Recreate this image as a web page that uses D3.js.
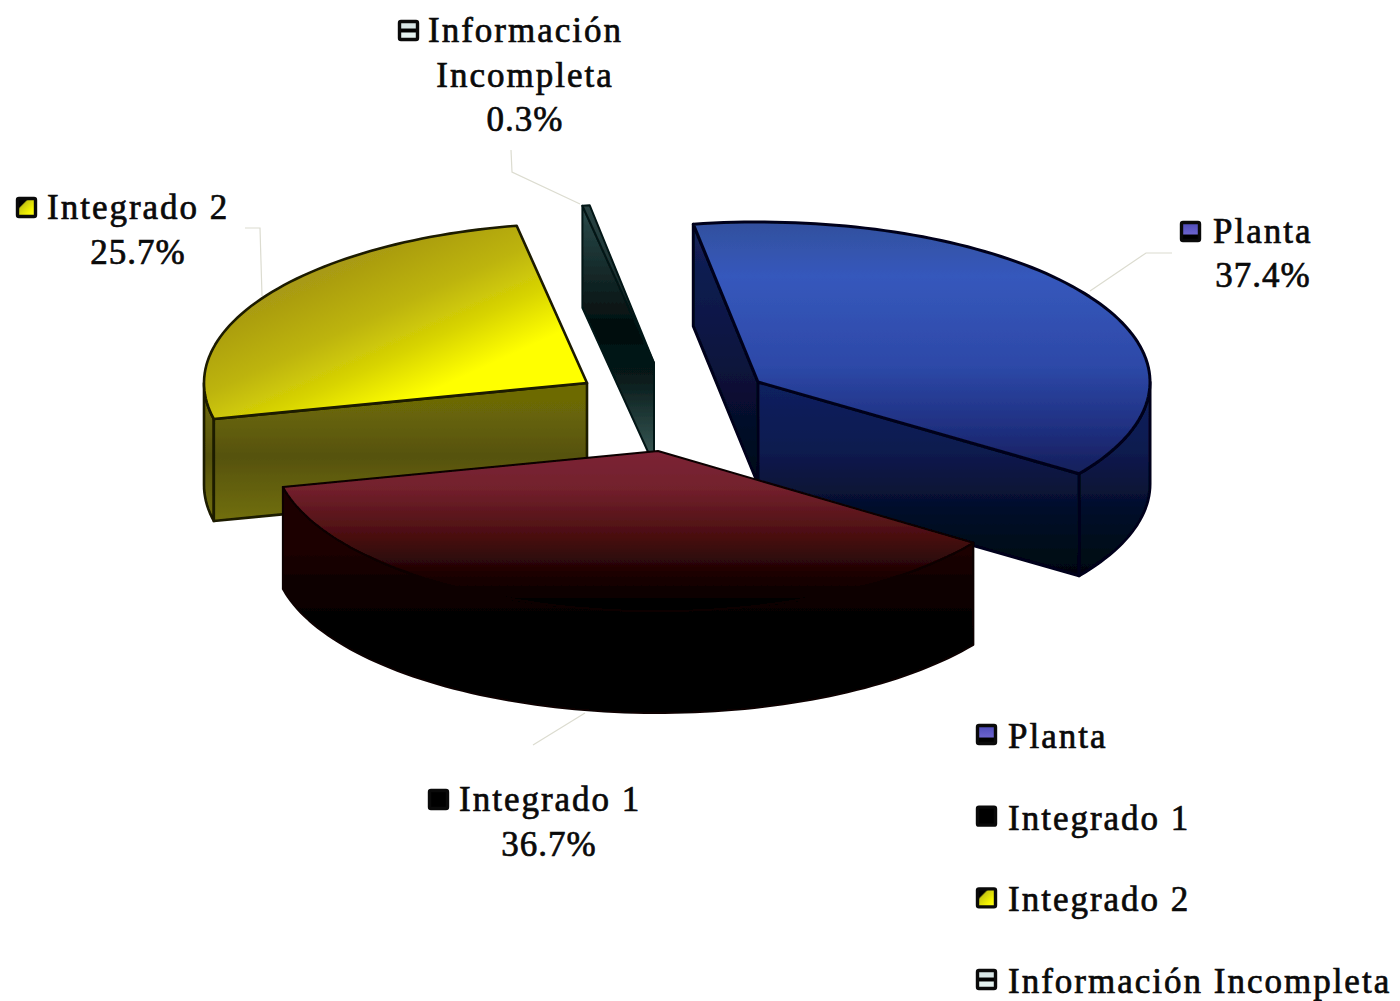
<!DOCTYPE html>
<html><head><meta charset="utf-8">
<script src="https://cdn.jsdelivr.net/npm/d3@7/dist/d3.min.js"></script>
<style>
html,body{margin:0;padding:0;background:#fff;overflow:hidden}
text{font-family:"Liberation Serif",serif;font-size:35px;fill:#0a0a0a;stroke:#0a0a0a;stroke-width:.7px;letter-spacing:2px}
text.pct{letter-spacing:1px}
</style></head><body>
<svg id="c" width="1400" height="1001"></svg>
<script>
// ---- data ----
const categories = ["Planta", "Integrado 1", "Integrado 2", "Información Incompleta"];
const values = [37.4, 36.7, 25.7, 0.3];
const valueLabels = ["37.4%", "36.7%", "25.7%", "0.3%"];

// ---- layout ----
const W = 1400, H = 1001;
const startDeg = -9.5;
const depth = 102;
const apexes = [[758,382],[658,451],[587,383],[654,363]];
const radiusX = [392,385,383,390];
const radiusY = [160,160,160,160];
const drawOrder = [2,3,0,1];

const svg = d3.select("#c").attr("viewBox",[0,0,W,H]);
const defs = svg.append("defs");
function grad(id,x1,y1,x2,y2,stops){
  const g = defs.append("linearGradient").attr("id",id).attr("gradientUnits",x2<=1&&y2<=1?"objectBoundingBox":"userSpaceOnUse")
    .attr("x1",x1).attr("y1",y1).attr("x2",x2).attr("y2",y2);
  stops.forEach(s=>g.append("stop").attr("offset",s[0]).attr("stop-color",s[1]));
}
grad("t0",0,225,0,480,[[0,"#32509f"],[.2,"#3658bc"],[.55,"#2d49a8"],[.8,"#1f2f80"],[1,"#141c54"]]);
grad("f0",0,390,0,570,[[0,"#11205e"],[.35,"#0d1a4e"],[.65,"#050f2c"],[1,"#010610"]]);
grad("w0",0,225,0,480,[[0,"#14225a"],[.5,"#0a1440"],[1,"#020818"]]);
grad("t1",0,451,0,605,[[0,"#7c2235"],[.25,"#72202c"],[.55,"#4a0e10"],[.8,"#1c0303"],[1,"#000000"]]);
grad("f1",0,545,0,640,[[0,"#1e0303"],[.5,"#0a0000"],[1,"#000000"]]);
grad("t2",395,240,480,425,[[0,"#a89a12"],[.3,"#bdb40c"],[.52,"#d8d404"],[.75,"#ffff00"],[1,"#ffff00"]]);
grad("f2",0,400,0,525,[[0,"#6d6a06"],[.45,"#56520a"],[1,"#73710e"]]);
grad("f3",0,205,0,450,[[0,"#2b4c4c"],[.5,"#020d0d"],[.7,"#071a1a"],[1,"#34534f"]]);
grad("t3",0,205,0,363,[[0,"#2a4444"],[1,"#0a1c1c"]]);
const topFill = ["url(#t0)","url(#t1)","url(#t2)","url(#t3)"];
const sideFill = ["url(#f0)","url(#f1)","url(#f2)","url(#f3)"];
const wallFill = ["url(#w0)","url(#f1)","url(#f2)","url(#f3)"];
const edge = ["#02061a","#0a0000","#1c1a00","#061414"];
const edgeWidth = [3,2,2.6,2];

const blur = defs.append("filter").attr("id","soft");
blur.append("feGaussianBlur").attr("stdDeviation",.7);

// ---- pie ----
const rad = d => d*Math.PI/180;
const arcs = d3.pie().sort(null).value(d=>d).startAngle(rad(startDeg)).endAngle(rad(startDeg+360))(values);
const line = d3.line();

function rimPoint(i,a,dz=0){
  return [apexes[i][0]+radiusX[i]*Math.sin(a), apexes[i][1]-radiusY[i]*Math.cos(a)+dz];
}
function rimPts(i,a0,a1,dz=0){
  const n = Math.max(2,Math.ceil(Math.abs(a1-a0)/rad(1.5)));
  return d3.range(n+1).map(k=>rimPoint(i,a0+(a1-a0)*k/n,dz));
}
const g = svg.append("g").attr("filter","url(#soft)");

drawOrder.forEach(i=>{
  const a0 = arcs[i].startAngle, a1 = arcs[i].endAngle;
  const ap = apexes[i], s = g.append("g").attr("class","slice");
  const style = (p,fill)=>p.attr("fill",fill).attr("stroke",edge[i]).attr("stroke-width",edgeWidth[i]).attr("stroke-linejoin","round");
  // outer wall: the front-facing part of the rim
  [[rad(90),rad(270)],[rad(450),rad(630)]].forEach(([lo,hi])=>{
    const b0=Math.max(a0,lo), b1=Math.min(a1,hi);
    if(b1>b0){
      const pts = rimPts(i,b0,b1).concat(rimPts(i,b1,b0,depth));
      style(s.append("path").attr("d",line(pts)+"Z"),sideFill[i]);
    }
  });
  // cut faces that look at the viewer
  const face = a => [rimPoint(i,a),ap,[ap[0],ap[1]+depth],rimPoint(i,a,depth)];
  if(-Math.cos(a0-Math.PI/2)>0) style(s.append("path").attr("d",line(face(a0))+"Z"),wallFill[i]);
  if(-Math.cos(a1+Math.PI/2)>0) style(s.append("path").attr("d",line(face(a1))+"Z"),sideFill[i]);
  // top
  const top = [ap].concat(rimPts(i,a0,a1));
  style(s.append("path").attr("d",line(top)+"Z"),topFill[i]);
});

// ---- leader lines ----
const leaders = [
  [[1090,291],[1146,253],[1172,253]],
  [[585,713],[533,745]],
  [[262,296],[260,228],[245,228]],
  [[580,204],[512,172],[511,150]]
];
svg.append("g").selectAll("path").data(leaders).join("path")
  .attr("d",d=>line(d)).attr("fill","none").attr("stroke","#dcdcd0").attr("stroke-width",1.2);

// ---- markers ----
grad("m0",0,0,0,1,[[0,"#4d4bb8"],[.62,"#6a62cc"],[.72,"#000"],[1,"#000"]]);
grad("m1",0,0,0,1,[[0,"#000"],[1,"#000"]]);
grad("m2",0,0,1,1,[[0,"#000"],[.28,"#000"],[.34,"#c8c810"],[.7,"#f4f400"],[1,"#ffff30"]]);
grad("m3",0,0,0,1,[[0,"#d8e6e6"],[.36,"#d8e6e6"],[.42,"#000"],[.58,"#000"],[.64,"#e4f2f0"],[1,"#e4f2f0"]]);
const markerFill = ["url(#m0)","url(#m1)","url(#m2)","url(#m3)"];
function marker(sel,i,x,y){
  sel.append("rect").attr("x",x+1.5).attr("y",y+1.5).attr("width",18).attr("height",18).attr("rx",1.5)
    .attr("fill",markerFill[i]).attr("stroke","#0a0a0a").attr("stroke-width",3.4);
}

// ---- data labels ----
const labelLines = [
  [{t:categories[0],x:1213,y:243,a:"start"},{t:valueLabels[0],x:1263,y:287,a:"middle",c:"pct"}],
  [{t:categories[1],x:459,y:811,a:"start"},{t:valueLabels[1],x:549,y:856,a:"middle",c:"pct"}],
  [{t:categories[2],x:47,y:219,a:"start"},{t:valueLabels[2],x:138,y:264,a:"middle",c:"pct"}],
  [{t:categories[3].split(" ")[0],x:428,y:42,a:"start"},{t:categories[3].split(" ")[1],x:525,y:87,a:"middle"},{t:valueLabels[3],x:525,y:131,a:"middle",c:"pct"}]
];
const labelMarkers = [[1180,221],[428,789],[16,197],[398,20]];
const lab = svg.append("g");
labelLines.forEach((ls,i)=>{
  marker(lab,i,labelMarkers[i][0],labelMarkers[i][1]);
  lab.selectAll(null).data(ls).join("text").attr("class",d=>d.c||null).attr("x",d=>d.x).attr("y",d=>d.y).attr("text-anchor",d=>d.a).text(d=>d.t);
});

// ---- legend ----
const legendY = d3.scalePoint().domain(categories).range([748,993]);
const leg = svg.append("g");
categories.forEach((c,i)=>{
  marker(leg,i,976,legendY(c)-24);
  leg.append("text").attr("x",1008).attr("y",legendY(c)).text(c);
});
</script></body></html>
